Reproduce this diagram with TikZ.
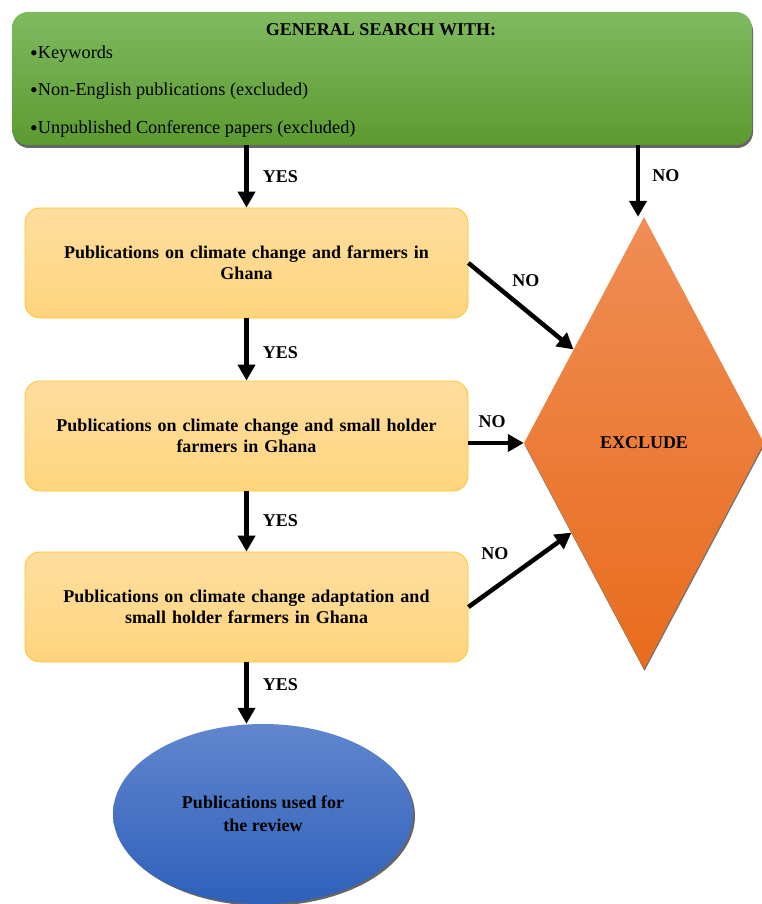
\documentclass[tikz,border=0pt]{standalone}
\usepackage{fontspec}
\setmainfont{Liberation Serif}
\usetikzlibrary{shapes.geometric,arrows.meta,shadows}
\definecolor{gtop}{RGB}{127,186,96}
\definecolor{gbot}{RGB}{92,155,48}
\definecolor{boxtop}{RGB}{254,222,158}
\definecolor{boxbot}{RGB}{255,212,125}
\definecolor{boxedge}{RGB}{255,196,40}
\definecolor{dtop}{RGB}{240,141,86}
\definecolor{dbot}{RGB}{232,108,28}
\definecolor{etop}{RGB}{96,134,206}
\definecolor{ebot}{RGB}{46,96,186}
\newcommand{\bigbul}{{\fontsize{22}{18}\selectfont\raisebox{-2pt}{•}}}
\begin{document}
\begin{tikzpicture}[x=1pt,y=-1pt,
  font=\fontsize{18}{21}\selectfont\bfseries,
  arr/.style={line width=4.5pt, -{Triangle[length=16pt,width=17pt]}},
  lbl/.style={inner sep=0pt, font=\fontsize{18}{18}\selectfont\bfseries},
  bullet/.style={anchor=west, inner sep=0pt, font=\fontsize{18.3}{18}\selectfont},
  pbox/.style={draw=boxedge, line width=0.8pt, rounded corners=15pt,
    top color=boxtop, bottom color=boxbot, minimum width=443pt,
    minimum height=110pt, align=center, text width=430pt, inner sep=0pt}]
\useasboundingbox (0,0) rectangle (761,904);
% top box
\node[rounded corners=16pt, top color=gtop, bottom color=gbot,
  minimum width=740pt, minimum height=133pt, inner sep=0pt,
  drop shadow={shadow xshift=1pt, shadow yshift=-3pt, fill=black!60, opacity=1}]
  (top) at (382,78.5) {};
\node[inner sep=0pt] (head) at (381,30) {GENERAL SEARCH WITH:};
\node[bullet] (k1) at (30,54) {\bigbul Keywords};
\node[bullet] (k2) at (30,91) {\bigbul Non-English publications (excluded)};
\node[bullet] (k3) at (30,129) {\bigbul Unpublished Conference papers (excluded)};
% process boxes
\node[pbox] (b1) at (246.5,263) {Publications on climate change and farmers in\\Ghana};
\node[pbox] (b2) at (246.5,436) {Publications on climate change and small holder\\farmers in Ghana};
\node[pbox] (b3) at (246.5,607) {Publications on climate change adaptation and\\small holder farmers in Ghana};
% exclude diamond
\node[diamond, minimum width=240pt, minimum height=452pt, inner sep=0pt,
  top color=dtop, bottom color=dbot,
  drop shadow={shadow xshift=0.5pt, shadow yshift=-2pt, fill=black!55, opacity=1}]
  (ex) at (644,443) {EXCLUDE};
% final ellipse
\node[ellipse, minimum width=300pt, minimum height=180pt, inner sep=0pt,
  top color=etop, bottom color=ebot, align=center,
  font=\fontsize{18}{23}\selectfont\bfseries,
  drop shadow={shadow xshift=2pt, shadow yshift=-2pt, fill=black!60, opacity=1}]
  (fin) at (263,814) {Publications used for\\the review};
% connectors
\draw[arr] (b1.north |- top.south) -- (b1.north) node[lbl, midway, right=14pt] {YES};
\draw[arr] ([xshift=-6pt]ex.north |- top.south) -- ([xshift=-6pt]ex.north) node[lbl, midway, right=12pt, yshift=5pt] {NO};
\draw[arr] (b1.south) -- (b2.north) node[lbl, midway, right=14pt, yshift=-3pt] {YES};
\draw[arr] (b2.south) -- (b3.north) node[lbl, midway, right=14pt, yshift=1pt] {YES};
\draw[arr] (b3.south) -- (b3.south |- fin.north) node[lbl, midway, right=14pt, yshift=8pt] {YES};
\draw[arr] (b1.east) -- (ex.127.7) node[lbl, midway, shift={(5,-26)}] {NO};
\draw[arr] (b2.east |- ex.west) -- (ex.west) node[lbl, midway, shift={(-4,-21)}] {NO};
\draw[arr] (b3.east) -- (ex.231.3) node[lbl, midway, shift={(-25,-16)}] {NO};
\end{tikzpicture}
\end{document}
